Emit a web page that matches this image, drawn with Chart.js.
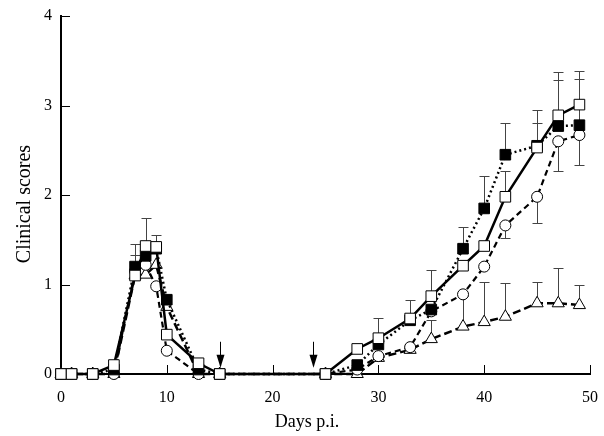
<!DOCTYPE html>
<html>
<head>
<meta charset="utf-8">
<script src="https://cdn.jsdelivr.net/npm/chart.js@4.4.1/dist/chart.umd.min.js"></script>
<style>
  body { margin: 0; background: #fff; }
  #wrap { width: 604px; height: 436px; }
</style>
</head>
<body>
<div id="wrap"><canvas id="chart"></canvas></div>
<script>
// days post infection where scores were taken
const days = [0, 1, 3, 5, 7, 8, 9, 10, 13, 15, 25, 28, 30, 33, 35, 38, 40, 42, 45, 47, 49];

// mean clinical scores per group
const openSquare   = [0, 0, 0, 0.1, 1.1, 1.43, 1.42, 0.44, 0.12, 0, 0, 0.28, 0.4, 0.62, 0.87, 1.21, 1.43, 1.98, 2.53, 2.89, 3.01];
const filledSquare = [0, 0, 0, 0.05, 1.2, 1.32, 1.4, 0.83, 0.05, 0, 0, 0.1, 0.33, 0.6, 0.72, 1.4, 1.85, 2.45, 2.55, 2.77, 2.78];
const openCircle   = [0, 0, 0, 0, 1.15, 1.22, 0.98, 0.26, 0, 0, 0, 0.05, 0.2, 0.3, 0.7, 0.89, 1.2, 1.66, 1.98, 2.6, 2.67];
const openTriangle = [0, 0, 0, 0, 1.1, 1.11, 1.22, 0.75, 0, 0, 0, 0, 0.18, 0.27, 0.39, 0.53, 0.58, 0.64, 0.79, 0.79, 0.77];

// error bars (one-sided): positive = drawn up, negative = drawn down, null = none shown
const errOpenSquare   = [null, null, null, null, 0.35, 0.31, 0.13, null, null, null, null, null, 0.23, 0.21, 0.29, null, null, 0.29, 0.42, 0.48, 0.38];
const errFilledSquare = [null, null, null, null, 0.13, null, null, null, null, null, null, null, null, null, null, 0.24, 0.36, 0.36, 0.25, 0.52, 0.52];
const errOpenCircle   = [null, null, null, null, null, null, null, null, null, null, null, null, null, null, null, null, null, -0.14, -0.29, -0.33, -0.33];
const errOpenTriangle = [null, null, null, null, null, null, null, null, null, null, null, null, null, null, 0.21, 0.34, 0.45, 0.38, 0.24, 0.39, 0.22];

// arrows marking treatment days
const arrowDays = [15, 23.8];

const xTicks = [0, 10, 20, 30, 40, 50];
const yTicks = [0, 1, 2, 3, 4];
const xTitle = 'Days p.i.';
const yTitle = 'Clinical scores';

let toPoints = (vals) => days.map((d, i) => ({ x: d, y: vals[i] }));

const extras = {
  id: 'extras',
  beforeDatasetsDraw(chart) {
    const ctx = chart.ctx;
    const xs = chart.scales.x, ys = chart.scales.y;
    const errs = [errOpenSquare, errFilledSquare, errOpenCircle, errOpenTriangle];
    const vals = [openSquare, filledSquare, openCircle, openTriangle];
    ctx.save();
    ctx.strokeStyle = '#444';
    ctx.lineWidth = 1;
    errs.forEach((e, s) => {
      e.forEach((v, i) => {
        if (v === null) return;
        const px = Math.round(xs.getPixelForValue(days[i])) + 0.5;
        const y0 = ys.getPixelForValue(vals[s][i]);
        const y1 = Math.round(ys.getPixelForValue(vals[s][i] + v)) + 0.5;
        ctx.beginPath();
        ctx.moveTo(px, y0);
        ctx.lineTo(px, y1);
        ctx.moveTo(px - 5, y1);
        ctx.lineTo(px + 5, y1);
        ctx.stroke();
      });
    });
    ctx.restore();
  },
  afterDraw(chart) {
    const ctx = chart.ctx;
    const xs = chart.scales.x, ys = chart.scales.y;
    const area = chart.chartArea;
    ctx.save();
    ctx.strokeStyle = '#000';
    ctx.fillStyle = '#000';
    ctx.lineWidth = 1;
    // inward ticks
    xTicks.slice(1).forEach(t => {
      const px = Math.round(xs.getPixelForValue(t)) + 0.5;
      ctx.beginPath();
      ctx.moveTo(px, area.bottom);
      ctx.lineTo(px, area.bottom - 9);
      ctx.stroke();
    });
    yTicks.slice(1).forEach(t => {
      const py = Math.round(ys.getPixelForValue(t)) + 0.5;
      ctx.beginPath();
      ctx.moveTo(area.left, py);
      ctx.lineTo(area.left + 9, py);
      ctx.stroke();
    });
    // arrows
    arrowDays.forEach(d => {
      const px = Math.round(xs.getPixelForValue(d)) + 0.5;
      const top = ys.getPixelForValue(0.36);
      const tip = ys.getPixelForValue(0.07);
      ctx.beginPath();
      ctx.moveTo(px, top);
      ctx.lineTo(px, tip - 10);
      ctx.stroke();
      ctx.beginPath();
      ctx.moveTo(px - 4, tip - 13);
      ctx.lineTo(px + 4, tip - 13);
      ctx.lineTo(px, tip);
      ctx.closePath();
      ctx.fill();
    });
    // axis titles
    ctx.textAlign = 'center';
    ctx.textBaseline = 'middle';
    ctx.font = '18px "Liberation Serif"';
    ctx.fillText(xTitle, 307, 422);
    ctx.translate(25, 204);
    ctx.rotate(-Math.PI / 2);
    ctx.font = '20px "Liberation Serif"';
    ctx.fillText(yTitle, 0, 0);
    ctx.restore();
  }
};

const common = {
  borderColor: '#000',
  pointBorderColor: '#000',
  pointBorderWidth: 1,
  tension: 0,
  clip: false
};

const ctx = document.getElementById('chart').getContext('2d');
const chart = new Chart(ctx, {
  type: 'line',
  plugins: [extras],
  data: {
    datasets: [
      Object.assign({}, common, {
        label: 'open square',
        data: toPoints(openSquare),
        borderWidth: 2.5,
        pointStyle: 'rect',
        pointRadius: 7.5,
        pointBackgroundColor: '#fff'
      }),
      Object.assign({}, common, {
        label: 'filled square',
        data: toPoints(filledSquare),
        borderWidth: 2.5,
        borderDash: [2, 3],
        pointStyle: 'rect',
        pointRadius: 7.5,
        pointBackgroundColor: '#000'
      }),
      Object.assign({}, common, {
        label: 'open circle',
        data: toPoints(openCircle),
        borderWidth: 2.2,
        borderDash: [6, 4],
        pointStyle: 'circle',
        pointRadius: 5.5,
        pointBackgroundColor: '#fff'
      }),
      Object.assign({}, common, {
        label: 'open triangle',
        data: toPoints(openTriangle),
        borderWidth: 2.5,
        borderDash: [8, 4],
        pointStyle: 'triangle',
        pointRadius: 7,
        pointBackgroundColor: '#fff'
      })
    ]
  },
  options: {
    responsive: true,
    maintainAspectRatio: false,
    animation: false,
    layout: { padding: { top: 16, right: 11, left: 0, bottom: 0 } },
    plugins: {
      legend: { display: false },
      tooltip: { enabled: false }
    },
    scales: {
      x: {
        type: 'linear',
        min: 0,
        max: 50,
        afterBuildTicks: (s) => { s.ticks = xTicks.map(v => ({ value: v })); },
        afterFit: (s) => { s.height = 62; },
        grid: { display: false },
        border: { display: true, color: '#000', width: 2 },
        ticks: {
          color: '#000',
          padding: 6,
          maxRotation: 0,
          font: { family: 'Liberation Serif', size: 16 }
        }
      },
      y: {
        min: 0,
        max: 4,
        afterBuildTicks: (s) => { s.ticks = yTicks.map(v => ({ value: v })); },
        afterFit: (s) => { s.width = 61; },
        grid: { display: false },
        border: { display: true, color: '#000', width: 2 },
        ticks: {
          color: '#000',
          padding: 1,
          font: { family: 'Liberation Serif', size: 16 }
        }
      }
    }
  }
});
</script>
</body>
</html>
